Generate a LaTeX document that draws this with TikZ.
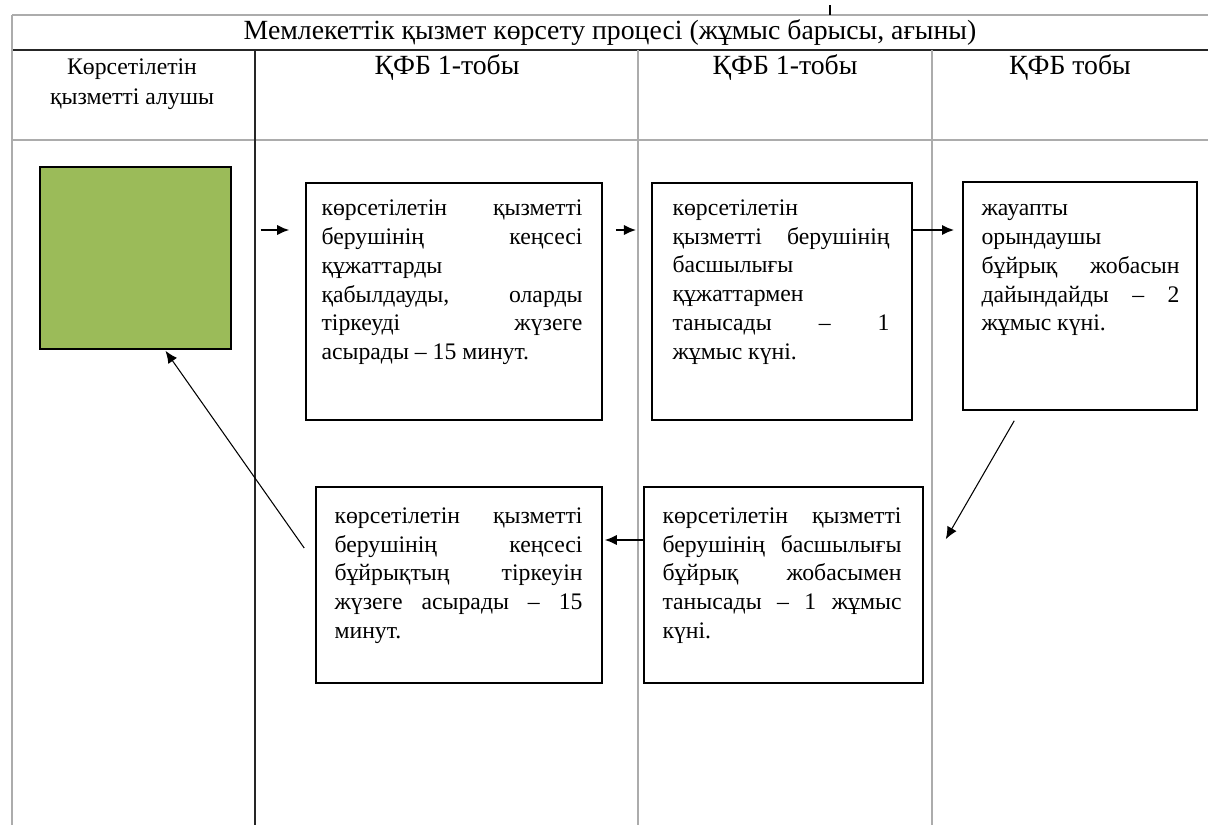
\documentclass[tikz,border=0pt]{standalone}
\usepackage{fontspec}
\setmainfont{Liberation Serif}
\usetikzlibrary{arrows, arrows.meta, calc, fit, positioning}

\begin{document}
\begin{tikzpicture}[>={Latex[length=7pt,width=6pt]}, x=0.02cm, y=-0.02cm,
    grid/.style={gray!65, line width=0.6pt},
    rule/.style={black!85, line width=0.9pt},
    box/.style={draw, line width=0.9pt, inner sep=0pt},
    txt/.style={align=justify, anchor=north west, inner sep=0pt, font=\fontsize{13.5}{16.4}\selectfont},
    head/.style={align=center, inner sep=0pt, font=\fontsize{13.5}{16.8}\selectfont},
    big head/.style={head, font=\fontsize{15.8}{18}\selectfont},
    arr/.style={->, line width=1.3pt},
    slim arr/.style={->, line width=0.6pt}]
    \useasboundingbox (0,0) rectangle (1208,825);

    % table
    \draw[grid] (12,15) -- (1208,15);
    \draw[rule] (12,50) -- (1208,50);
    \draw[grid] (12,140) -- (1208,140);
    \draw[grid] (12,15) -- (12,825);
    \draw[rule] (255,50) -- (255,825);
    \draw[grid] (638,50) -- (638,825);
    \draw[grid] (932,50) -- (932,825);
    \draw[line width=1pt] (830,5) -- (830,15);

    \node[big head] (title) at (610,33) {Мемлекеттік қызмет көрсету процесі (жұмыс барысы, ағыны)};
    \node[head] (col1) at (132,84) {Көрсетілетін\\қызметті алушы};
    \node[big head] (col2) at (447,68) {ҚФБ 1-тобы};
    \node[big head] (col3) at (785,68) {ҚФБ 1-тобы};
    \node[big head] (col4) at (1070,68) {ҚФБ тобы};

    % steps
    \node[box, fill={rgb,255:red,155;green,187;blue,89}, fit={(40,167) (231,349)}] (green) {};
    \node[box, fit={(306,183) (602,420)}] (b1) {};
    \node[box, fit={(652,183) (912,420)}] (b2) {};
    \node[box, fit={(963,182) (1197,410)}] (b3) {};
    \node[box, fit={(644,487) (923,683)}] (b4) {};
    \node[box, fit={(316,487) (602,683)}] (b5) {};

    \node[txt, text width=5.22cm] (t1) at ([shift={(16,13)}]b1.north west)
        {\strut көрсетілетін қызметті\linebreak берушінің кеңсесі\linebreak құжаттарды\newline қабылдауды, оларды\linebreak тіркеуді жүзеге\linebreak асырады – 15 минут.};
    \node[txt, text width=4.34cm] (t2) at ([shift={(21,12.5)}]b2.north west)
        {\strut көрсетілетін\newline қызметті берушінің\linebreak басшылығы\newline құжаттармен\newline танысады – 1\linebreak жұмыс күні.};
    \node[txt, text width=3.96cm] (t3) at ([shift={(19,14)}]b3.north west)
        {\strut жауапты\newline орындаушы\newline бұйрық жобасын\linebreak дайындайды – 2\linebreak жұмыс күні.};
    \node[txt, text width=4.78cm] (t4) at ([shift={(19,16.5)}]b4.north west)
        {\strut көрсетілетін қызметті\linebreak берушінің басшылығы\linebreak бұйрық жобасымен\linebreak танысады – 1 жұмыс\linebreak күні.};
    \node[txt, text width=4.96cm] (t5) at ([shift={(19,16.5)}]b5.north west)
        {\strut көрсетілетін қызметті\linebreak берушінің кеңсесі\linebreak бұйрықтың тіркеуін\linebreak жүзеге асырады – 15\linebreak минут.};

    % arrows
    \coordinate (r1) at (0,230);
    \coordinate (r2) at (0,540);
    \draw[arr, shorten <=16.4pt, shorten >=9pt] (green.east |- r1) -- (b1.west |- r1);
    \draw[arr, shorten <=7.4pt, shorten >=8.5pt] (b1.east |- r1) -- (b2.west |- r1);
    \draw[arr, shorten >=4.5pt] (b2.east |- r1) -- (b3.west |- r1);
    \draw[slim arr] ($(b3.south west)+(52,10)$) -- ($(b4.north east)+(22,53)$);
    \draw[arr, shorten >=1pt] (b4.west |- r2) -- (b5.east |- r2);
    \draw[slim arr] ($(b5.west)+(-11,-37)$) -- ($(green.south)+(30,1)$);
\end{tikzpicture}
\end{document}
